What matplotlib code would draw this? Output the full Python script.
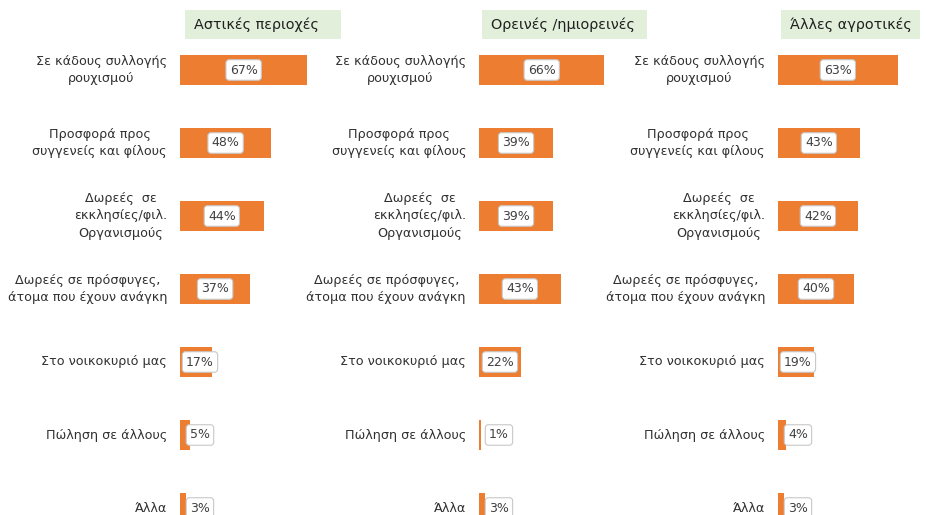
import matplotlib
matplotlib.use("Agg")
import matplotlib.pyplot as plt
from matplotlib.patches import Rectangle

# ---- data -------------------------------------------------------------
categories = [
    "Σε κάδους συλλογής\nρουχισμού",
    "Προσφορά προς\nσυγγενείς και φίλους",
    "Δωρεές  σε\nεκκλησίες/φιλ.\nΟργανισμούς",
    "Δωρεές σε πρόσφυγες,\nάτομα που έχουν ανάγκη",
    "Στο νοικοκυριό μας",
    "Πώληση σε άλλους",
    "Άλλα",
]
panel_titles = ["Αστικές περιοχές", "Ορεινές /ημιορεινές", "Άλλες αγροτικές"]
urban = [67, 48, 44, 37, 17, 5, 3]
mountain = [66, 39, 39, 43, 22, 1, 3]
rural = [63, 43, 42, 40, 19, 4, 3]
panel_values = [urban, mountain, rural]

# ---- layout (pixels) ---------------------------------------------------
W, H = 926, 515
ORANGE = "#ED7D31"
bar_x0 = [180, 479, 778]          # left edge of bars
px_per_pct = 1.9
row0, row_step = 70, 73
title_boxes = [(185, 341), (482, 647), (781, 920)]

fig = plt.figure(figsize=(W / 100, H / 100), dpi=100)

y_top = row0 - row_step / 2
ylim_bottom = (H - row0) / row_step

for k, vals in enumerate(panel_values):
    ax = fig.add_axes([bar_x0[k] / W, 0, 100 * px_per_pct / W, (H - y_top) / H])
    ax.set_xlim(0, 100)
    ax.set_ylim(ylim_bottom, -0.5)
    ax.axis("off")
    ys = list(range(len(categories)))
    ax.barh(ys, vals, height=0.41, color=ORANGE)
    for y, v, cat in zip(ys, vals, categories):
        ax.text(max(v / 2, 10.5), y, f"{v}%", ha="center", va="center",
                fontsize=9, color="#404040",
                bbox=dict(boxstyle="round,pad=0.3,rounding_size=0.25",
                          fc="white", ec="#C8C8C8", lw=0.8))
        ax.text(-13 / px_per_pct, y, cat, ha="right", va="center",
                multialignment="center", fontsize=9.2, color="#303030",
                linespacing=1.45, clip_on=False)

    # header box
    x0, x1 = title_boxes[k]
    fig.patches.append(Rectangle((x0 / W, 1 - 39 / H), (x1 - x0) / W, 29 / H,
                                 transform=fig.transFigure, fc="#E2EFDA",
                                 ec="none"))
    fig.text((x0 + 9) / W, 1 - 24.5 / H, panel_titles[k], ha="left",
             va="center", fontsize=10.4, color="#202020")

fig.savefig("out.png", dpi=100)
